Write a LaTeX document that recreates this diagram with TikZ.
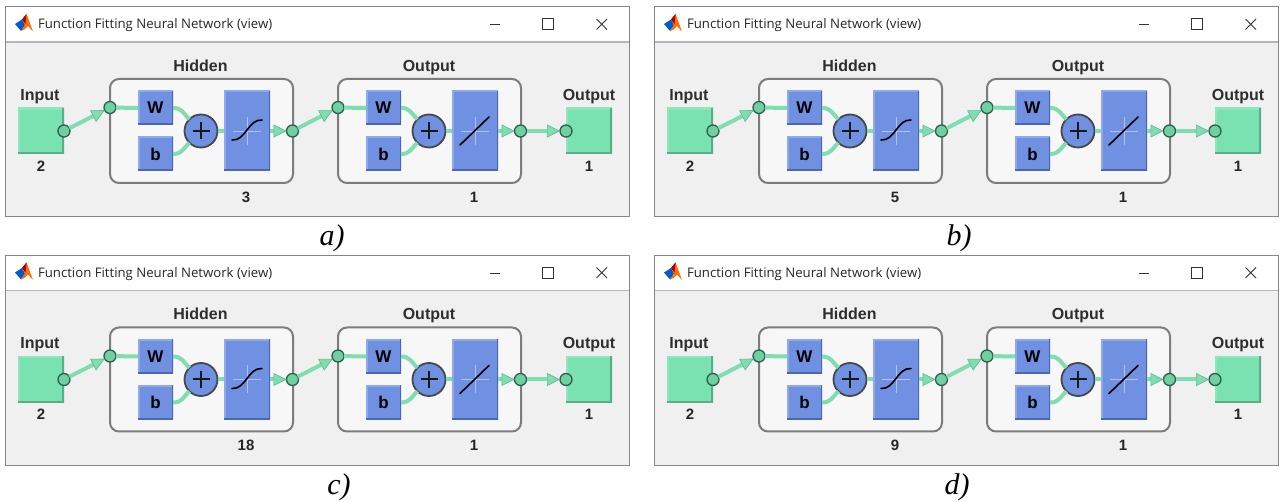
\documentclass[tikz,border=0pt]{standalone}
\usepackage{fontspec}
\setmainfont{Liberation Serif}
\newfontfamily\titlefont{Open Sans}
\newfontfamily\labelfont{Liberation Sans}
\usetikzlibrary{arrows.meta,calc}
\definecolor{wingrey}{HTML}{F0F0F0}
\definecolor{winborder}{HTML}{85878A}
\definecolor{titleline}{HTML}{B4B6BE}
\definecolor{nnblue}{HTML}{7090E2}
\definecolor{blueup}{HTML}{90A8EC}
\definecolor{bluedn}{HTML}{4C66B0}
\definecolor{nngreen}{HTML}{7AE2B0}
\definecolor{greenup}{HTML}{8CE8BC}
\definecolor{greendn}{HTML}{58AE88}
\definecolor{wire}{HTML}{80DDB0}
\definecolor{wireedge}{HTML}{5DB890}
\definecolor{panelbox}{HTML}{F7F7F7}
\definecolor{panelline}{HTML}{7C7C7C}
\definecolor{dot}{HTML}{6FD0A2}
\definecolor{dotline}{HTML}{2F5F4C}
\tikzset{
  x=1pt,y=-1pt,
  every node/.style={inner sep=0pt,outer sep=0pt},
  winframe/.style={draw=winborder,line width=1pt,fill=wingrey,rectangle,minimum width=624pt,minimum height=210pt},
  titlestrip/.style={fill=white,rectangle,minimum width=623pt,minimum height=34.5pt},
  wintitle/.style={font=\titlefont\fontsize{13.2}{15}\selectfont,text=black!85,anchor=base west},
  lbl/.style={font=\labelfont\bfseries\fontsize{16}{18}\selectfont,text=black!82,anchor=base},
  num/.style={font=\labelfont\bfseries\fontsize{15}{17}\selectfont,text=black!85},
  caption/.style={font=\itshape\fontsize{30}{32}\selectfont,text=black},
  bluebevel/.style={rectangle,draw=none,fill=nnblue,path picture={
      \draw[blueup,line width=3pt] (path picture bounding box.south west)--(path picture bounding box.north west)--(path picture bounding box.north east);
      \draw[bluedn,line width=3pt] (path picture bounding box.north east)--(path picture bounding box.south east)--(path picture bounding box.south west);}},
  greenbevel/.style={rectangle,draw=none,fill=nngreen,path picture={
      \draw[greenup,line width=3.4pt] (path picture bounding box.south west)--(path picture bounding box.north west)--(path picture bounding box.north east);
      \draw[greendn,line width=3.4pt] (path picture bounding box.north east)--(path picture bounding box.south east)--(path picture bounding box.south west);}},
  smallbox/.style={bluebevel,minimum width=35pt,minimum height=34pt,font=\labelfont\bfseries\fontsize{17}{19}\selectfont,text=black},
  transferbox/.style={bluebevel,minimum width=46pt,minimum height=80pt},
  iobox/.style={greenbevel,minimum width=46pt,minimum height=46pt},
  layerbox/.style={rectangle,rounded corners=9pt,draw=panelline,line width=2pt,fill=panelbox,minimum width=183pt,minimum height=104pt},
  sumnode/.style={circle,draw=black!72,line width=1.8pt,fill=nnblue,minimum size=33pt},
  portdot/.style={circle,draw=dotline,line width=1.3pt,fill=dot,minimum size=12pt},
  wirepath/.style={draw=wire,line width=4pt},
  wirearrow/.style={wirepath,-{Triangle[length=13pt,width=13pt,fill=wire,color=wireedge,line width=.6pt]}},
  crossline/.style={draw=blueup!70!white,line width=.9pt},
  curveline/.style={draw=black,line width=1.6pt,line cap=round},
  plusline/.style={draw=black!90,line width=2pt},
  winbutton/.style={draw=black!80,line width=.9pt},
}
\begin{document}
\begin{tikzpicture}
\useasboundingbox (0,0) rectangle (1280,502);
\fill[white] (0,0) rectangle (1280,502);
\foreach \p/\dx/\dy/\hn in {a/0/0/3,b/649/0/5,c/0/248.5/18,d/649/248.5/9}{
\begin{scope}[shift={(\dx,\dy)}]
  % window
  \node[winframe] (\p-win) at (317,112) {};
  \node[titlestrip] (\p-strip) at (317,24.5) {};
  \draw[titleline,line width=1.2pt] (5.5,42) -- (628.5,42);
  % logo
  \fill[blue!55!cyan!80!black] (15,24) -- (22,19.5) -- (25,25) -- (21,31) -- cycle;
  \fill[orange!85!red] (22,19.5) -- (26.5,14) -- (33,31.5) -- (28,26) -- (24.5,29.5) -- (21,31) -- (25,25) -- cycle;
  \fill[red!70!black] (22,19.5) -- (26.5,14) -- (25.5,24) -- cycle;
  \node[wintitle] (\p-title) at (38,29) {Function Fitting Neural Network (view)};
  % window buttons
  \draw[winbutton] (490,24.5) -- (500,24.5);
  \draw[winbutton] (542.5,18.5) rectangle (553,29.5);
  \draw[winbutton] (596.5,19) -- (607,29.5) (607,19) -- (596.5,29.5);
  % layers
  \node[layerbox] (\p-h) at (201.5,131) {};
  \node[layerbox] (\p-o) at (429.5,131) {};
  % boxes
  \node[iobox] (\p-in) at (41,131) {};
  \node[iobox] (\p-out) at (589,131) {};
  \node[smallbox] (\p-hw) at (155.5,108) {W};
  \node[smallbox] (\p-hb) at (155.5,154) {b};
  \node[smallbox] (\p-ow) at (383.5,108) {W};
  \node[smallbox] (\p-ob) at (383.5,154) {b};
  \node[transferbox] (\p-ht) at (247,131) {};
  \node[transferbox] (\p-ot) at (475,131) {};
  \node[sumnode] (\p-hs) at (201,131) {};
  \node[sumnode] (\p-os) at (429,131) {};
  % ports
  \node[portdot] (\p-p1) at (64,131) {};
  \node[portdot] (\p-p2) at (110,107.5) {};
  \node[portdot] (\p-p3) at (292.5,131) {};
  \node[portdot] (\p-p4) at (338,107.5) {};
  \node[portdot] (\p-p5) at (520.5,131) {};
  \node[portdot] (\p-p6) at (566,131) {};
  % connectors
  \draw[wirearrow] (\p-p1) -- (\p-p2);
  \draw[wirearrow] (\p-p3) -- (\p-p4);
  \draw[wirearrow] (\p-p5) -- (\p-p6);
  \draw[wirepath] (\p-p2) -- (\p-hw.west);
  \draw[wirepath] (\p-p4) -- (\p-ow.west);
  \draw[wirepath] (\p-hw.east) .. controls +(9,0) and +(-6,-6) .. (\p-hs.north west);
  \draw[wirepath] (\p-hb.east) .. controls +(9,0) and +(-6,6) .. (\p-hs.south west);
  \draw[wirepath] (\p-ow.east) .. controls +(9,0) and +(-6,-6) .. (\p-os.north west);
  \draw[wirepath] (\p-ob.east) .. controls +(9,0) and +(-6,6) .. (\p-os.south west);
  \draw[wirepath] (\p-hs.east) -- (\p-ht.west);
  \draw[wirepath] (\p-os.east) -- (\p-ot.west);
  \draw[wirearrow] (\p-ht.east) -- (\p-p3);
  \draw[wirearrow] (\p-ot.east) -- (\p-p5);
  % glyphs
  \draw[plusline] ($(\p-hs.center)+(-8.5,0)$) -- ($(\p-hs.center)+(8.5,0)$) ($(\p-hs.center)+(0,-8.5)$) -- ($(\p-hs.center)+(0,8.5)$);
  \draw[plusline] ($(\p-os.center)+(-8.5,0)$) -- ($(\p-os.center)+(8.5,0)$) ($(\p-os.center)+(0,-8.5)$) -- ($(\p-os.center)+(0,8.5)$);
  \draw[crossline] ($(\p-ht.center)+(-14,0)$) -- ($(\p-ht.center)+(14,0)$) ($(\p-ht.center)+(0,-14)$) -- ($(\p-ht.center)+(0,14)$);
  \draw[crossline] ($(\p-ot.center)+(-14,0)$) -- ($(\p-ot.center)+(14,0)$) ($(\p-ot.center)+(0,-14)$) -- ($(\p-ot.center)+(0,14)$);
  \draw[curveline] ($(\p-ht.center)+(-15,9)$) .. controls +(14,1) and +(-14,-1) .. ($(\p-ht.center)+(15,-11)$);
  \draw[curveline] ($(\p-ot.center)+(-15,14)$) -- ($(\p-ot.center)+(14,-14)$);
  % labels
  \node[lbl] (\p-l1) at (40,100.5) {Input};
  \node[lbl] (\p-l2) at (200.5,71.5) {Hidden};
  \node[lbl] (\p-l3) at (429,71.5) {Output};
  \node[lbl] (\p-l4) at (589,100.5) {Output};
  \node[num] (\p-n1) at (41,166) {2};
  \node[num] (\p-n2) at (246,197) {\hn};
  \node[num] (\p-n3) at (474,197) {1};
  \node[num] (\p-n4) at (589,166) {1};
\end{scope}}
\node[caption] (cap-a) at (332,238) {a)};
\node[caption] (cap-b) at (959,238) {b)};
\node[caption] (cap-c) at (339,487) {c)};
\node[caption] (cap-d) at (957,487) {d)};
\end{tikzpicture}
\end{document}
